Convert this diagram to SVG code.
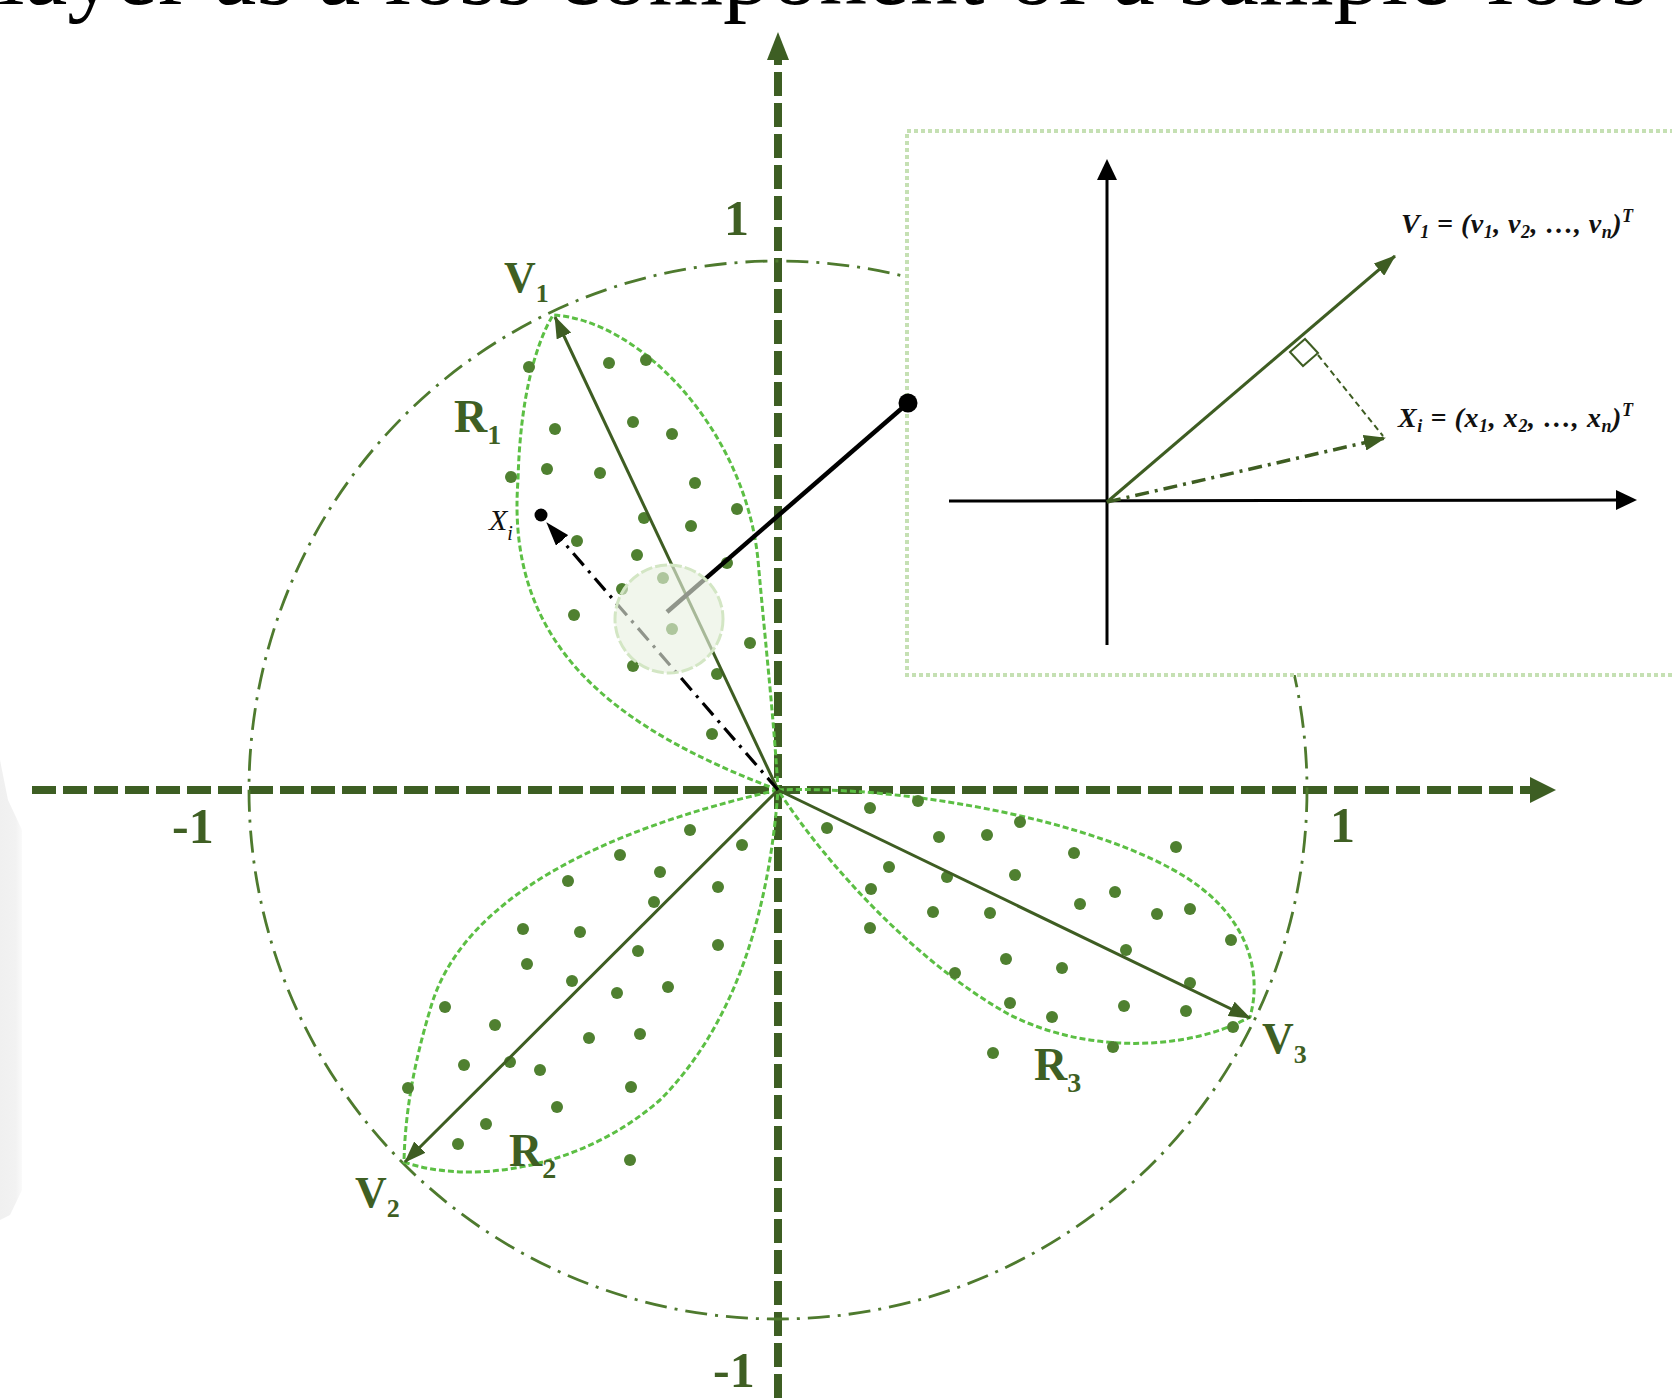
<svg xmlns="http://www.w3.org/2000/svg" width="1672" height="1398" viewBox="0 0 1672 1398">
<defs>
<style>
.axis{stroke:#3d5e23;stroke-width:8;stroke-dasharray:24 7;fill:none}
.unit{stroke:#4e7a2e;stroke-width:2.8;stroke-dasharray:22 8 3 8;fill:none}
.petal{stroke:#5cbf44;stroke-width:3;stroke-dasharray:6 3;fill:none}
.vec{stroke:#3e5d22;stroke-width:3;fill:none}
.dot{fill:#4f8030}
.lbl{font-family:"Liberation Serif","Times New Roman",serif;font-weight:bold;fill:#3f5f23}
.ins{font-family:"Liberation Serif","Times New Roman",serif;font-weight:bold;font-style:italic;fill:#111;font-size:28px}
</style>
<linearGradient id="shade" x1="0" y1="0" x2="1" y2="0">
<stop offset="0" stop-color="#f0f0f0"/><stop offset="0.7" stop-color="#f2f2f2"/><stop offset="1" stop-color="#fafafa"/>
</linearGradient>
<marker id="ahG" markerUnits="userSpaceOnUse" markerWidth="22" markerHeight="16" refX="21" refY="8" orient="auto"><path d="M0,0 L22,8 L0,16 z" fill="#3e5d22"/></marker>
<marker id="ahK" markerUnits="userSpaceOnUse" markerWidth="24" markerHeight="16" refX="23" refY="8" orient="auto"><path d="M0,0 L24,8 L0,16 z" fill="#000"/></marker>
</defs>
<rect width="1672" height="1398" fill="#fff"/>
<path d="M0,760 L8,800 L22,830 L22,1190 L10,1215 L0,1220 Z" fill="url(#shade)"/>
<text x="-2" y="4" font-family="Liberation Serif,Times New Roman,serif" font-size="96" fill="#000">layer as a loss component of a sample<tspan dx="8" letter-spacing="4"> loss</tspan></text>

<g id="axes">
<line class="axis" x1="32" y1="790" x2="1532" y2="790"/>
<polygon points="1530,777 1556,790 1530,803" fill="#3d5e23"/>
<line class="axis" x1="778" y1="1398" x2="778" y2="58"/>
<polygon points="767,60 778,32 789,60" fill="#3d5e23"/>
<text class="lbl" x="724" y="235" font-size="50">1</text>
<text class="lbl" x="172" y="843" font-size="50">-1</text>
<text class="lbl" x="1330" y="842" font-size="50">1</text>
<text class="lbl" x="713" y="1387" font-size="50">-1</text>
</g>

<g id="unit-circle">
<circle class="unit" cx="778" cy="790" r="529"/>
</g>

<g id="petal-R1">
<path class="petal" d="M778,790 C620,730 505,650 518,480 C520,400 535,345 553,315 C640,320 745,430 758,560 C766,650 774,720 778,790 Z"/>
<g class="dot">
<circle cx="529" cy="367" r="6"/><circle cx="609" cy="363" r="6"/><circle cx="646" cy="360" r="6"/>
<circle cx="555" cy="429" r="6"/><circle cx="633" cy="422" r="6"/><circle cx="672" cy="434" r="6"/>
<circle cx="511" cy="477" r="6"/><circle cx="547" cy="469" r="6"/><circle cx="600" cy="473" r="6"/>
<circle cx="695" cy="483" r="6"/><circle cx="737" cy="509" r="6"/><circle cx="644" cy="518" r="6"/>
<circle cx="691" cy="526" r="6"/><circle cx="577" cy="541" r="6"/><circle cx="637" cy="555" r="6"/>
<circle cx="727" cy="563" r="6"/><circle cx="622" cy="589" r="6"/><circle cx="663" cy="578" r="6"/>
<circle cx="574" cy="615" r="6"/><circle cx="672" cy="629" r="6"/><circle cx="750" cy="643" r="6"/>
<circle cx="633" cy="666" r="6"/><circle cx="717" cy="674" r="6"/><circle cx="712" cy="734" r="6"/>
</g>
<text class="lbl" x="454" y="432" font-size="46">R<tspan font-size="28" dy="12">1</tspan></text>
</g>

<g id="petal-R2">
<path class="petal" d="M778,790 C600,830 460,900 430,1010 C415,1060 405,1110 404,1162 C470,1185 580,1170 660,1100 C740,1020 770,900 778,790 Z"/>
<g class="dot">
<circle cx="690" cy="830" r="6"/><circle cx="742" cy="845" r="6"/><circle cx="620" cy="855" r="6"/>
<circle cx="660" cy="872" r="6"/><circle cx="568" cy="881" r="6"/><circle cx="718" cy="887" r="6"/>
<circle cx="654" cy="902" r="6"/><circle cx="523" cy="929" r="6"/><circle cx="580" cy="932" r="6"/>
<circle cx="718" cy="945" r="6"/><circle cx="638" cy="951" r="6"/><circle cx="527" cy="964" r="6"/>
<circle cx="572" cy="981" r="6"/><circle cx="668" cy="987" r="6"/><circle cx="617" cy="993" r="6"/>
<circle cx="445" cy="1007" r="6"/><circle cx="495" cy="1025" r="6"/><circle cx="589" cy="1038" r="6"/>
<circle cx="640" cy="1034" r="6"/><circle cx="464" cy="1065" r="6"/><circle cx="510" cy="1062" r="6"/>
<circle cx="540" cy="1070" r="6"/><circle cx="408" cy="1088" r="6"/><circle cx="631" cy="1087" r="6"/>
<circle cx="557" cy="1107" r="6"/><circle cx="486" cy="1124" r="6"/><circle cx="458" cy="1144" r="6"/>
<circle cx="630" cy="1160" r="6"/>
</g>
<text class="lbl" x="509" y="1166" font-size="46">R<tspan font-size="28" dy="12">2</tspan></text>
</g>

<g id="petal-R3">
<path class="petal" d="M778,790 C900,785 1100,820 1190,880 C1250,920 1262,975 1250,1017 C1190,1050 1090,1055 1010,1015 C920,965 830,870 778,790 Z"/>
<g class="dot">
<circle cx="870" cy="808" r="6"/><circle cx="918" cy="801" r="6"/><circle cx="827" cy="828" r="6"/>
<circle cx="939" cy="837" r="6"/><circle cx="987" cy="835" r="6"/><circle cx="1020" cy="822" r="6"/>
<circle cx="1176" cy="847" r="6"/><circle cx="1074" cy="853" r="6"/><circle cx="889" cy="867" r="6"/>
<circle cx="947" cy="877" r="6"/><circle cx="1015" cy="875" r="6"/><circle cx="871" cy="889" r="6"/>
<circle cx="1115" cy="892" r="6"/><circle cx="1080" cy="904" r="6"/><circle cx="1190" cy="909" r="6"/>
<circle cx="1157" cy="914" r="6"/><circle cx="933" cy="912" r="6"/><circle cx="990" cy="913" r="6"/>
<circle cx="870" cy="928" r="6"/><circle cx="1231" cy="940" r="6"/><circle cx="1126" cy="950" r="6"/>
<circle cx="1006" cy="959" r="6"/><circle cx="1062" cy="968" r="6"/><circle cx="955" cy="973" r="6"/>
<circle cx="1190" cy="983" r="6"/><circle cx="1010" cy="1003" r="6"/><circle cx="1124" cy="1006" r="6"/>
<circle cx="1186" cy="1011" r="6"/><circle cx="1052" cy="1017" r="6"/><circle cx="1233" cy="1027" r="6"/>
<circle cx="1113" cy="1047" r="6"/><circle cx="993" cy="1053" r="6"/>
</g>
<text class="lbl" x="1034" y="1080" font-size="46">R<tspan font-size="28" dy="12">3</tspan></text>
</g>

<g id="inset">
<rect x="907" y="131" width="800" height="544" fill="#fff" stroke="#c5e0b3" stroke-width="4" stroke-dasharray="4 3"/>
<line x1="1107" y1="645" x2="1107" y2="178" stroke="#000" stroke-width="3"/>
<polygon points="1097,180 1107,159 1117,180" fill="#000"/>
<line x1="949" y1="501" x2="1618" y2="500" stroke="#000" stroke-width="3"/>
<polygon points="1616,490 1637,500 1616,510" fill="#000"/>
<line x1="1107" y1="502" x2="1395" y2="256" stroke="#3e5d22" stroke-width="3" marker-end="url(#ahG)"/>
<line x1="1107" y1="502" x2="1385" y2="438" stroke="#3e5d22" stroke-width="3.5" stroke-dasharray="14 6 3 6" marker-end="url(#ahG)"/>
<polygon points="1290,352 1305,339 1318,353 1303,366" fill="none" stroke="#3e5d22" stroke-width="2"/>
<line x1="1318" y1="355" x2="1383" y2="436" stroke="#3e5d22" stroke-width="2" stroke-dasharray="6 4"/>
<text class="ins" x="1401" y="233" textLength="232" lengthAdjust="spacing">V<tspan font-size="18" dy="5">1</tspan><tspan dy="-5"> = (v</tspan><tspan font-size="18" dy="5">1</tspan><tspan dy="-5">, v</tspan><tspan font-size="18" dy="5">2</tspan><tspan dy="-5">, …, v</tspan><tspan font-size="18" dy="5">n</tspan><tspan dy="-5">)</tspan><tspan font-size="18" dy="-11">T</tspan></text>
<text class="ins" x="1398" y="427" textLength="235" lengthAdjust="spacing">X<tspan font-size="18" dy="5">i</tspan><tspan dy="-5"> = (x</tspan><tspan font-size="18" dy="5">1</tspan><tspan dy="-5">, x</tspan><tspan font-size="18" dy="5">2</tspan><tspan dy="-5">, …, x</tspan><tspan font-size="18" dy="5">n</tspan><tspan dy="-5">)</tspan><tspan font-size="18" dy="-11">T</tspan></text>
</g>

<g id="connectors">
<line x1="778" y1="790" x2="555" y2="317" class="vec" marker-end="url(#ahG)"/>
<line x1="778" y1="790" x2="405" y2="1162" class="vec" marker-end="url(#ahG)"/>
<line x1="778" y1="790" x2="1250" y2="1018" class="vec" marker-end="url(#ahG)"/>
<line x1="778" y1="790" x2="547" y2="523" stroke="#000" stroke-width="3.2" stroke-dasharray="16 7 3 7" marker-end="url(#ahK)"/>
<line x1="908" y1="403" x2="667" y2="612" stroke="#000" stroke-width="4.5"/>
</g>

<g id="magnifier">
<circle cx="669" cy="619" r="54" fill="#e8f1e0" fill-opacity="0.62" stroke="#d3e6c4" stroke-width="3" stroke-dasharray="12 3"/>
</g>

<g id="point-Xi">
<circle cx="541" cy="515" r="6.5" fill="#000"/>
<text x="489" y="530" font-family="Liberation Serif,Times New Roman,serif" font-style="italic" font-size="30" fill="#111">X<tspan font-size="20" dy="10">i</tspan></text>
</g>

<g id="anchor-dot"><circle cx="908" cy="403" r="9.5" fill="#000"/></g>

<g id="vector-labels">
<text class="lbl" x="504" y="292" font-size="44">V<tspan font-size="26" dy="10">1</tspan></text>
<text class="lbl" x="355" y="1207" font-size="44">V<tspan font-size="26" dy="10">2</tspan></text>
<text class="lbl" x="1262" y="1053" font-size="44">V<tspan font-size="26" dy="10">3</tspan></text>
</g>
</svg>
